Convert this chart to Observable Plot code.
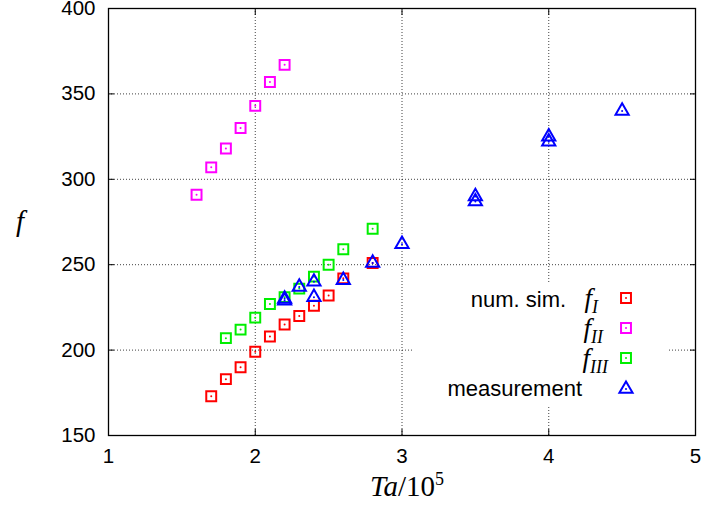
<!DOCTYPE html>
<html><head><meta charset="utf-8">
<script src="https://cdn.jsdelivr.net/npm/d3@7"></script>
<script src="https://cdn.jsdelivr.net/npm/@observablehq/plot@0.6"></script>
<style>
body{margin:0;background:#fff;}
#wrap{position:relative;width:702px;height:510px;overflow:hidden;font-family:"Liberation Sans",Arial,sans-serif;color:#000;}
.math{font-family:"Liberation Serif","DejaVu Serif",serif;font-style:italic;}
.up{font-style:normal;}
.abs{position:absolute;white-space:nowrap;}
#legend{position:absolute;left:412px;top:282px;width:256px;height:123px;background:#fff;}
</style></head><body><div id="wrap"></div>
<script>
// ---- data ----
const xTicks = [1, 2, 3, 4, 5];
const yTicks = [150, 200, 250, 300, 350, 400];
const gridX = [2, 3, 4];
const gridY = [200, 250, 300, 350];

const fI_x = [1.7, 1.8, 1.9, 2.0, 2.1, 2.2, 2.3, 2.4, 2.5, 2.6, 2.8];
const fI_y = [173, 183, 190, 199, 208, 215, 220, 226, 232, 242, 251];

const fII_x = [1.6, 1.7, 1.8, 1.9, 2.0, 2.1, 2.2];
const fII_y = [291, 307, 318, 330, 343, 357, 367];

const fIII_x = [1.8, 1.9, 2.0, 2.1, 2.2, 2.3, 2.4, 2.5, 2.6, 2.8];
const fIII_y = [207, 212, 219, 227, 231, 236, 243, 250, 259, 271];

const meas_x = [2.2, 2.2, 2.3, 2.4, 2.4, 2.6, 2.8, 3.0, 3.5, 3.5, 4.0, 4.0, 4.5];
const meas_y = [229, 230, 237, 240, 231, 241, 251, 262, 290, 287, 325, 322, 340];

const colI = "#ff0000", colII = "#ff00ff", colIII = "#00ee00", colM = "#0000ff";

const tbl = (xs, ys) => xs.map((x, i) => ({x, y: ys[i]}));
const dI = tbl(fI_x, fI_y), dII = tbl(fII_x, fII_y), dIII = tbl(fIII_x, fIII_y), dM = tbl(meas_x, meas_y);

const rSq = 5.6, rTri = 4.9;
const series = (data, color, symbol, r) => [
  Plot.dot(data, {x: "x", y: "y", symbol, r, stroke: color, strokeWidth: 2, fill: "none"}),
  Plot.dot(data, {x: "x", y: "y", r: 1, fill: color, stroke: "none"})
];

const gridStyle = {stroke: "#000", strokeOpacity: 0.75, strokeDasharray: "1,2", strokeWidth: 1};

const chart = Plot.plot({
  width: 702, height: 510,
  marginLeft: 108, marginRight: 7, marginTop: 8, marginBottom: 75,
  x: {domain: [1, 5]},
  y: {domain: [150, 400]},
  style: {fontFamily: "Liberation Sans, Arial, sans-serif", fontSize: "20px", color: "#000", background: "transparent", overflow: "visible"},
  marks: [
    Plot.gridX(gridX, gridStyle),
    Plot.gridY(gridY, gridStyle),
    Plot.axisX(xTicks, {tickSize: 0, tickPadding: 13, fontSize: 20.5, label: null, tickFormat: d3.format("d")}),
    Plot.axisY(yTicks, {tickSize: 0, tickPadding: 13, fontSize: 20.5, label: null, tickFormat: d3.format("d")}),
    Plot.axisX(xTicks, {anchor: "bottom", tickSize: -6, text: null, label: null}),
    Plot.axisX(xTicks, {anchor: "top", tickSize: -6, text: null, label: null}),
    Plot.axisY(yTicks, {anchor: "left", tickSize: -6, text: null, label: null}),
    Plot.axisY(yTicks, {anchor: "right", tickSize: -6, text: null, label: null}),
    Plot.frame({stroke: "#000", strokeWidth: 1.3}),
    ...series(dI, colI, "square", rSq),
    ...series(dII, colII, "square", rSq),
    ...series(dIII, colIII, "square", rSq),
    ...series(dM, colM, "triangle", rTri)
  ]
});
const wrap = document.getElementById("wrap");
wrap.appendChild(chart);

// axis titles
const yl = document.createElement("div");
yl.className = "abs math";
yl.style.cssText = "left:16px;top:205px;font-size:29px;";
yl.innerHTML = "f";
wrap.appendChild(yl);

const xl = document.createElement("div");
xl.className = "abs math";
xl.style.cssText = "left:407px;top:469px;transform:translateX(-50%);font-size:29px;";
xl.innerHTML = "Ta<span class='up'>/10<sup style='font-size:18px'>5</sup></span>";
wrap.appendChild(xl);

// legend
const legend = document.createElement("div");
legend.id = "legend";
wrap.appendChild(legend);
const fLabel = sub => `<span class='math' style='font-size:27px'>f<sub style='font-size:18px'>${sub}</sub></span>`;
const legendRows = [
  {html: "num. sim.&nbsp;&nbsp;&nbsp;" + fLabel("I"), right: 598, cy: 298, color: colI, symbol: d3.symbolSquare, r: rSq},
  {html: fLabel("II"), right: 603, cy: 328, color: colII, symbol: d3.symbolSquare, r: rSq},
  {html: fLabel("III"), right: 608, cy: 358, color: colIII, symbol: d3.symbolSquare, r: rSq},
  {html: "measurement", right: 582, cy: 389, color: colM, symbol: d3.symbolTriangle, r: rTri}
];
legendRows.forEach(row => {
  const t = document.createElement("div");
  t.className = "abs";
  t.style.cssText = `right:${702 - row.right}px;top:${row.cy - 15}px;height:30px;line-height:30px;font-size:22px;`;
  t.innerHTML = row.html;
  wrap.appendChild(t);
  const s = d3.create("svg").attr("width", 24).attr("height", 24)
    .style("position", "absolute").style("left", `${626 - 12}px`).style("top", `${row.cy - 12}px`);
  const g = s.append("g").attr("transform", "translate(12,12)");
  g.append("path").attr("d", d3.symbol(row.symbol, row.r * row.r * Math.PI)())
    .attr("fill", "none").attr("stroke", row.color).attr("stroke-width", 2);
  g.append("circle").attr("r", 1).attr("fill", row.color);
  wrap.appendChild(s.node());
});
</script>
</body></html>
